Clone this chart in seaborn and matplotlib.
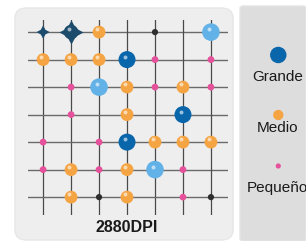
import matplotlib
matplotlib.use("Agg")
import matplotlib.pyplot as plt
from matplotlib.patches import FancyBboxPatch
import pandas as pd
import seaborn as sns

# grid of dots: column, row (0 = top), kind
columna = [0, 1, 2, 4, 6,
           0, 1, 2, 3, 4, 6,
           1, 2, 3, 4, 5, 6,
           1, 3, 5,
           0, 2, 3, 4, 5, 6,
           0, 1, 2, 3, 4, 5,
           1, 2, 3, 5, 6]
fila = [0] * 5 + [1] * 6 + [2] * 6 + [3] * 3 + [4] * 6 + [5] * 6 + [6] * 5
tipo = ["estrella", "marino", "Medio", "negro", "Claro",
        "Medio", "Medio", "Medio", "Grande", "Pequeño", "Pequeño",
        "Pequeño", "Claro", "Medio", "Pequeño", "Medio", "Pequeño",
        "Pequeño", "Medio", "Grande",
        "Pequeño", "Pequeño", "Grande", "Medio", "Medio", "Medio",
        "Pequeño", "Medio", "Pequeño", "Medio", "Claro", "Pequeño",
        "Medio", "negro", "Medio", "Pequeño", "negro"]

leyenda = ["Grande", "Medio", "Pequeño"]
titulo = "2880DPI"

colores = {"Grande": "#0966ab", "Claro": "#62b2e8", "Medio": "#f5a443",
           "Pequeño": "#e5519b", "negro": "#2e2e2e", "marino": "#1c4b6c",
           "estrella": "#1c4b6c"}
tamanos = {"Grande": 150, "Claro": 160, "Medio": 85, "Pequeño": 24,
           "negro": 20, "marino": 110, "estrella": 90}
marcas = {k: "o" for k in colores}
marcas["estrella"] = (4, 1, 0)

df = pd.DataFrame({"col": columna, "fila": fila, "tipo": tipo})

plt.rcParams["font.family"] = ["Liberation Sans", "DejaVu Sans"]
fig = plt.figure(figsize=(3.06, 2.41), dpi=100)
W, H = 306, 241

def fx(px):
    return px / W

def fy(py):
    return 1 - py / H

# background panels
fig.patches.append(FancyBboxPatch((fx(15), fy(240)), fx(233) - fx(15), fy(8) - fy(240),
                                  boxstyle="round,pad=0,rounding_size=0.04",
                                  transform=fig.transFigure, facecolor="#eeeeee",
                                  edgecolor="#e6e6e6", linewidth=1, zorder=-2))
fig.patches.append(FancyBboxPatch((fx(240), fy(241)), fx(306) - fx(240), fy(6) - fy(241),
                                  boxstyle="round,pad=0,rounding_size=0.01",
                                  transform=fig.transFigure, facecolor="#dddddd",
                                  edgecolor="#e4e4e4", linewidth=1, zorder=-2))

# main grid axes: columns at 43..211 px, rows at 32..197 px
ax = fig.add_axes([fx(28), fy(215), fx(228) - fx(28), fy(20) - fy(215)])
ax.set_xlim(-0.54, 6.61)
ax.set_ylim(6.65, -0.44)
ax.axis("off")
for i in range(7):
    ax.axhline(i, color="#6a6a6a", lw=1.0, zorder=1)
    ax.axvline(i, color="#4a4a4a", lw=0.9, zorder=1)

# spikes behind the navy ball
marino = df[df["tipo"] == "marino"]
ax.scatter(marino["col"], marino["fila"], s=300, marker=(4, 1, 0),
           color=colores["marino"], linewidth=0, zorder=2)

sns.scatterplot(data=df, x="col", y="fila", hue="tipo", size="tipo", style="tipo",
                palette=colores, sizes=tamanos, markers=marcas, linewidth=0,
                legend=False, ax=ax, zorder=3)

# small shine on the balls
brillo = df[df["tipo"].isin(["Grande", "Claro", "Medio", "marino"])]
ax.scatter(brillo["col"] - 0.08, brillo["fila"] - 0.1, s=8, color="white",
           alpha=0.6, linewidth=0, zorder=4)

fig.text(fx(127), fy(228), titulo, ha="center", va="center",
         fontsize=11.5, fontweight="bold", color="#1a1a1a")

# legend panel
lax = fig.add_axes([fx(240), 0, fx(306) - fx(240), fy(6)])
lax.set_xlim(0, 1)
lax.set_ylim(235, 0)
lax.axis("off")
ley = pd.DataFrame({"x": [0.58] * 3, "y": [49, 109, 160], "tipo": leyenda})
sns.scatterplot(data=ley, x="x", y="y", hue="tipo", size="tipo",
                palette=colores, sizes={"Grande": 140, "Medio": 55, "Pequeño": 14},
                linewidth=0, legend=False, ax=lax, clip_on=False)
for etiqueta, yy in zip(leyenda, [71, 122, 182]):
    lax.text(0.57, yy, etiqueta, ha="center", va="center", fontsize=11,
             color="#1a1a1a", clip_on=False)

fig.savefig("out.png", dpi=100)
